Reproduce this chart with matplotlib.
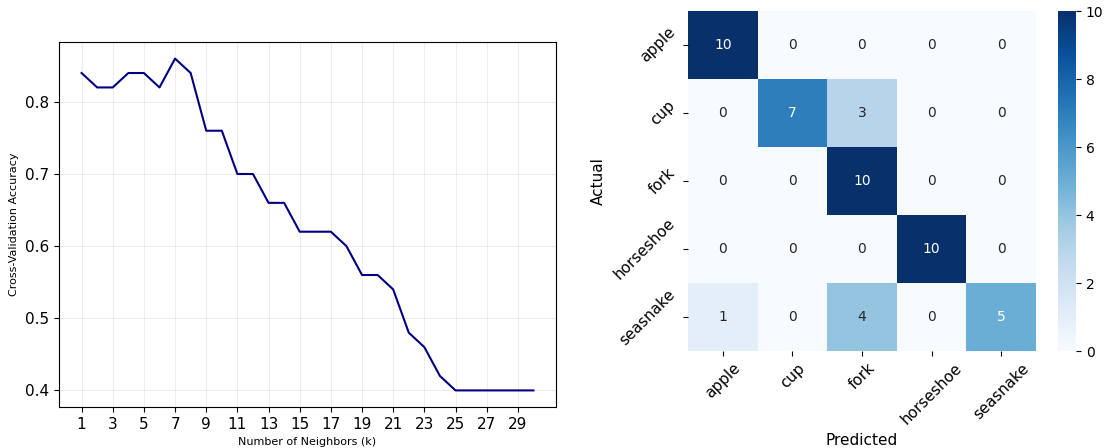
import numpy as np
import matplotlib
matplotlib.use("Agg")
import matplotlib.pyplot as plt
import seaborn as sns

k_values = list(range(1, 31))
cv_accuracy = [0.84, 0.82, 0.82, 0.84, 0.84, 0.82, 0.86, 0.84, 0.76, 0.76,
               0.70, 0.70, 0.66, 0.66, 0.62, 0.62, 0.62, 0.60, 0.56, 0.56,
               0.54, 0.48, 0.46, 0.42, 0.40, 0.40, 0.40, 0.40, 0.40, 0.40]

class_labels = ["apple", "cup", "fork", "horseshoe", "seasnake"]
conf_matrix = np.array([
    [10, 0, 0, 0, 0],
    [0, 7, 3, 0, 0],
    [0, 0, 10, 0, 0],
    [0, 0, 0, 10, 0],
    [1, 0, 4, 0, 5],
])

fig = plt.figure(figsize=(11.07, 4.48), dpi=100)

ax1 = fig.add_axes([59/1107, 1-407/448, (556-59)/1107, (407-42)/448])
ax1.plot(k_values, cv_accuracy, color="navy", linewidth=1.5)
ax1.set_xticks(k_values[::2])
ax1.grid(True, alpha=0.22)
ax1.set_xlabel("Number of Neighbors (k)", fontsize=8)
ax1.set_ylabel("Cross-Validation Accuracy", fontsize=8)
ax1.tick_params(labelsize=11)

ax2 = fig.add_axes([688/1107, 1-351/448, (1036-688)/1107, (351-11)/448])
cax = fig.add_axes([1058/1107, 1-351/448, (1076-1058)/1107, (351-11)/448])
sns.heatmap(conf_matrix, annot=True, fmt="d", cmap="Blues", ax=ax2, cbar_ax=cax,
            xticklabels=class_labels, yticklabels=class_labels,
            annot_kws={"fontsize": 10})
ax2.set_xlabel("Predicted", fontsize=11)
ax2.set_ylabel("Actual", fontsize=11)
ax2.set_xticklabels(class_labels, rotation=45, fontsize=11)
ax2.set_yticklabels(class_labels, rotation=45, fontsize=11)
cax.tick_params(labelsize=10)

fig.savefig("out.png", dpi=100)
